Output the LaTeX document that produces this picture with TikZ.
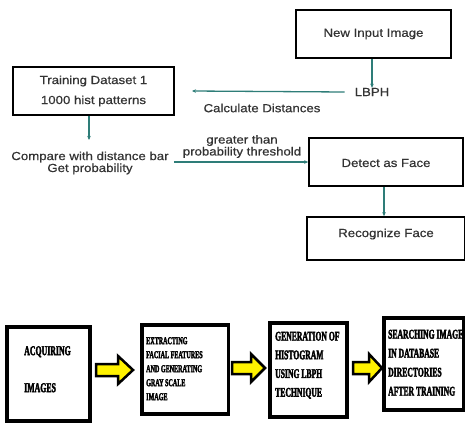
\documentclass[tikz,border=0pt]{standalone}
\usepackage{fontspec}
\usetikzlibrary{arrows.meta}
\newfontfamily\topfont[FakeStretch=1.13, FakeBold=0.6]{Liberation Sans}
\newfontfamily\condfont[FakeStretch=0.58, FakeBold=2.5]{Liberation Serif Bold}
\definecolor{teal1}{HTML}{2E7D78}
\definecolor{txtgray}{HTML}{333333}
\tikzset{
  topbox/.style={draw=black, line width=1.6pt, fill=white, inner sep=0pt},
  toptext/.style={text=txtgray, font={\topfont\fontsize{11.7}{10.5}\selectfont}, inner sep=0pt, align=center},
  flow/.style={draw=teal1, line width=1.3pt, -{Stealth[length=4pt,width=3.5pt]}},
  botbox/.style={draw=black, line width=3.5pt, fill=white, inner sep=0pt},
  bottext/.style={anchor=north west, inner sep=0pt, align=left},
  yarrow/.style={draw=black, fill=yellow, line width=2.5pt, line join=miter}
}
\newcommand\yarr[4]{%
  \draw[yarrow] (#1,#4-6) -- (#2,#4-6) -- (#2,#4-14) -- (#3,#4) -- (#2,#4+14) -- (#2,#4+6) -- (#1,#4+6) -- cycle;}
\begin{document}
\begin{tikzpicture}[x=1pt,y=-1pt]
\useasboundingbox (0,0) rectangle (465,423);
% top flow chart
\node[topbox, minimum width=155pt, minimum height=48pt] (inp) at (373.5,34) {};
\node[toptext] (inpt) at (373.5,34) {New Input Image};
\node[toptext] (lbph) at (372,92) {LBPH};
\node[topbox, minimum width=161pt, minimum height=48pt] (train) at (93.5,91) {};
\node[toptext, font={\topfont\fontsize{11.7}{20}\selectfont}] (traint) at (93.5,91) {Training Dataset 1\\1000 hist patterns};
\coordinate (calcend) at (192,91);
\node[toptext] (calc) at (262,108) {Calculate Distances};
\coordinate (trainend) at (89,140);
\node[toptext] (cmp) at (90,163) {Compare with distance bar\\Get probability};
\node[topbox, minimum width=154pt, minimum height=48pt] (det) at (386,162) {};
\node[toptext] (dett) at (386,163) {Detect as Face};
\node[toptext] (thr) at (242,146.5) {greater than\\probability threshold};
\node[topbox, minimum width=158pt, minimum height=43pt] (rec) at (386,238.5) {};
\node[toptext] (rect) at (386,234) {Recognize Face};
\draw[flow] (inp.south -| lbph) -- (lbph.north);
\draw[flow] (lbph.west) ++(-10,0) -- (calcend);
\draw[flow] (cmp.east |- det.west) ++(5,0) -- (det.west);
\draw[flow] (train.south -| trainend) -- (trainend);
\draw[flow] (det.south -| 384,0) -- (rec.north -| 384,0);
% bottom pipeline
\node[botbox, minimum width=83pt, minimum height=94pt] (b1) at (48.5,374) {};
\node[botbox, minimum width=86.5pt, minimum height=89pt] (b2) at (185.25,369.5) {};
\node[botbox, minimum width=77pt, minimum height=94pt] (b3) at (308.5,370) {};
\node[botbox, minimum width=79.5pt, minimum height=92pt] (b4) at (423.75,364) {};
\node[bottext, font={\condfont\fontsize{13.5}{37}\selectfont}] (t1) at (24,346) {ACQUIRING\\IMAGES};
\node[bottext, font={\condfont\fontsize{10.5}{14}\selectfont}] (t2) at (146,337) {EXTRACTING\\FACIAL FEATURES\\AND GENERATING\\GRAY SCALE\\IMAGE};
\node[bottext, font={\condfont\fontsize{13.2}{18.7}\selectfont}] (t3) at (275,331.6) {GENERATION OF\\HISTOGRAM\\USING LBPH\\TECHNIQUE};
\node[bottext, font={\condfont\fontsize{13.2}{19}\selectfont}] (t4) at (388,329.6) {SEARCHING IMAGE\\IN DATABASE\\DIRECTORIES\\AFTER TRAINING};
\yarr{96}{118}{133}{370}
\yarr{232}{251}{265}{368}
\yarr{353}{369}{382}{368}
\end{tikzpicture}
\end{document}
